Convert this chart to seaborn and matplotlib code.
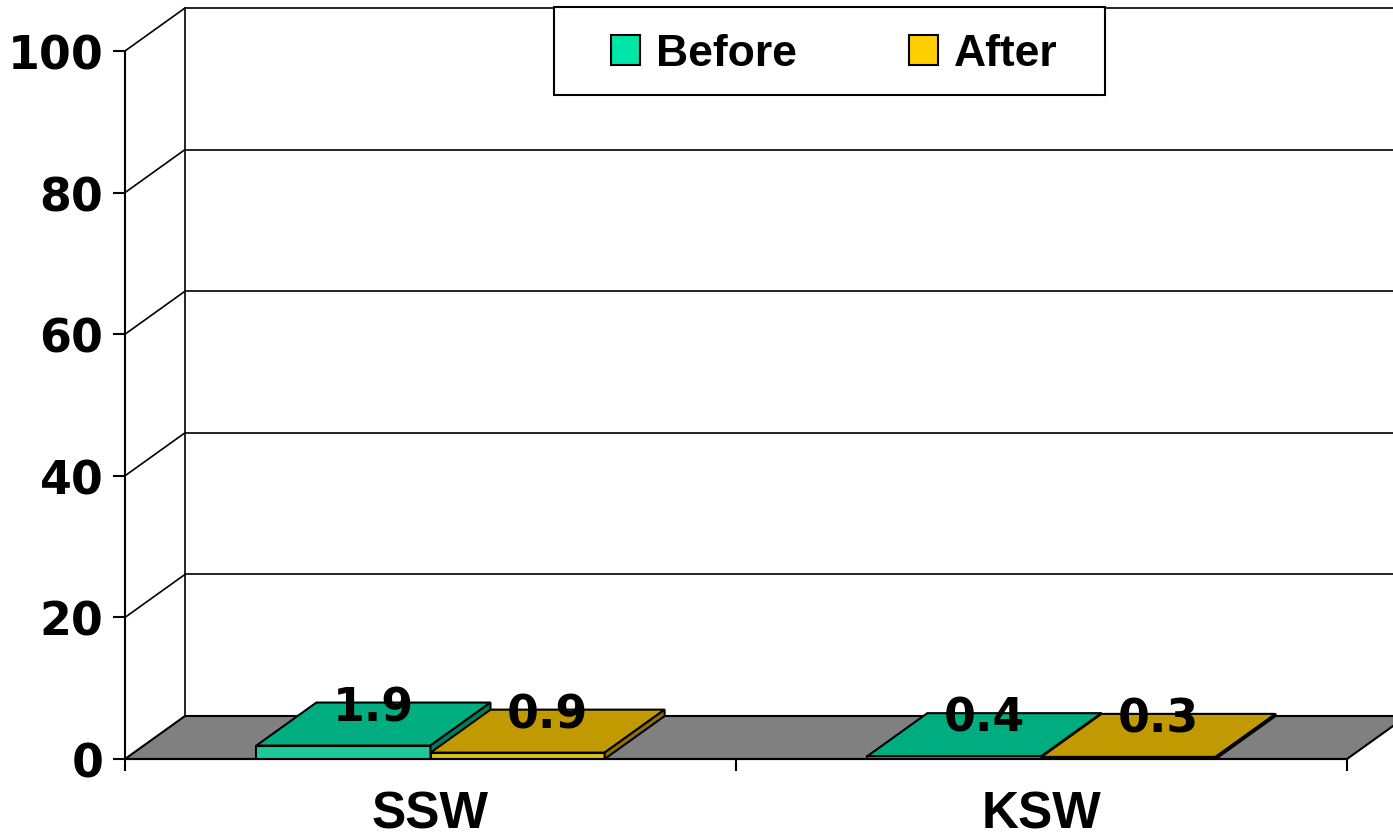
import numpy as np
import pandas as pd
import matplotlib
matplotlib.use("Agg")
import matplotlib.pyplot as plt
import seaborn as sns
from matplotlib.patches import Polygon, Rectangle, Patch

# ---- data ----
sites = ["SSW", "KSW"]
periods = ["Before", "After"]
before = [1.9, 0.4]
after = [0.9, 0.3]
yticks = [0, 20, 40, 60, 80, 100]

sns.set_style("white")
plt.rcParams["font.family"] = ["Liberation Sans", "DejaVu Sans"]
plt.rcParams["text.color"] = "black"
plt.rcParams["xtick.labelcolor"] = "black"
plt.rcParams["ytick.labelcolor"] = "black"

df = pd.DataFrame({
    "site": sites * 2,
    "period": ["Before"] * len(sites) + ["After"] * len(sites),
    "value": before + after,
})

front = {"Before": "#00E5A8", "After": "#FFD000"}
topc = {"Before": "#00AD80", "After": "#C09A00"}
sidec = {"Before": "#007F5E", "After": "#8F7300"}

W, H = 1393, 837
fig = plt.figure(figsize=(W / 100, H / 100), dpi=100)
ax = fig.add_axes([125 / W, 77 / H, 1222 / W, 708 / H])

sns.barplot(data=df, x="site", y="value", hue="period", hue_order=periods,
            order=sites, palette=front, width=0.57, edgecolor="black",
            linewidth=1.5, ax=ax, legend=False)
ax.set_xlim(-0.5, 1.5)
ax.set_ylim(0, 100)
ax.patch.set_visible(False)
ax.set_xlabel("")
ax.set_ylabel("")

# depth offset of the pseudo-3D look (data units)
dx = 60 / 611
dy = 43 / 7.08

# back wall & left wall lines
for v in yticks[1:]:
    ax.plot([-0.5 + dx, 1.5 + dx], [v + dy, v + dy], color="black", lw=1.2,
            clip_on=False, zorder=1)
    ax.plot([-0.5, -0.5 + dx], [v, v + dy], color="black", lw=1.2,
            clip_on=False, zorder=1)
ax.plot([-0.5 + dx, -0.5 + dx], [dy, 100 + dy], color="black", lw=1.2,
        clip_on=False, zorder=1)

# floor
ax.add_patch(Polygon([(-0.5, 0), (1.5, 0), (1.5 + dx, dy), (-0.5 + dx, dy)],
                     closed=True, facecolor="#808080", edgecolor="black",
                     lw=1.5, clip_on=False, zorder=1.5))

# 3D bar faces
bars = []
for cont, per in zip(ax.containers, periods):
    for b, v in zip(cont, cont.datavalues):
        bars.append((b.get_x(), b, per, float(v)))
bars.sort(key=lambda t: t[0])
for i, (x0, b, per, v) in enumerate(bars):
    z = 3 + i * 0.1
    w = b.get_width()
    x1 = x0 + w
    b.set_zorder(z)
    ax.add_patch(Polygon([(x0, v), (x1, v), (x1 + dx, v + dy), (x0 + dx, v + dy)],
                         closed=True, facecolor=topc[per], edgecolor="black",
                         lw=1.5, clip_on=False, zorder=z + 0.01))
    ax.add_patch(Polygon([(x1, 0), (x1, v), (x1 + dx, v + dy), (x1 + dx, dy)],
                         closed=True, facecolor=sidec[per], edgecolor="black",
                         lw=1.5, clip_on=False, zorder=z + 0.02))
    ax.text(x0 + w / 2 + dx / 2, v + dy, f"{v:g}", ha="center",
            va="center_baseline", fontsize=33, fontweight="bold",
            family="DejaVu Sans", color="black", zorder=20)

# axes, ticks
for s in ["top", "right"]:
    ax.spines[s].set_visible(False)
for s in ["left", "bottom"]:
    ax.spines[s].set_color("black")
    ax.spines[s].set_linewidth(1.5)

ax.set_yticks(yticks)
ax.set_yticklabels([str(t) for t in yticks], fontsize=33, fontweight="bold",
                   family="DejaVu Sans")
ax.tick_params(axis="y", left=True, length=8.6, width=1.5, pad=7,
               direction="out", color="black")

ax.set_xticks([-0.5, 0.5, 1.5])
ax.set_xticklabels(["", "", ""])
ax.set_xticks([0, 1], minor=True)
ax.set_xticklabels(sites, minor=True, fontsize=37, fontweight="bold")
ax.tick_params(axis="x", which="major", bottom=True, length=8.6, width=1.5,
               direction="out", color="black")
ax.tick_params(axis="x", which="minor", bottom=True, length=0, pad=22)

# legend
fig.patches.append(Rectangle((554 / W, 1 - 96 / H), 551 / W, 88 / H,
                             transform=fig.transFigure, facecolor="white",
                             edgecolor="black", lw=1.5, zorder=1))
handles = [Patch(facecolor=front[p], edgecolor="black", lw=1.5) for p in periods]
fig.legend(handles, periods, loc="center", bbox_to_anchor=(834 / W, 1 - 55 / H),
           bbox_transform=fig.transFigure, ncol=2, frameon=False,
           prop={"size": 32, "weight": "bold"}, handlelength=0.65,
           handleheight=0.65, handletextpad=0.36, columnspacing=2.52)

fig.savefig("out.png", dpi=100)
